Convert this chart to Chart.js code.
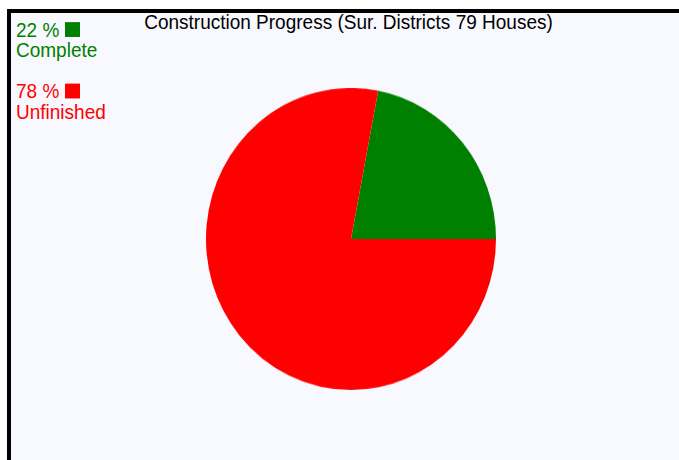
<!DOCTYPE html>
<html>
<head>
<meta charset="utf-8">
<script src="https://cdn.jsdelivr.net/npm/chart.js@4/dist/chart.umd.min.js"></script>
<style>
    html, body { margin: 0; padding: 0; background: #fff; width: 679px; height: 460px; overflow: hidden; }
    #box {
        position: absolute; left: 7px; top: 9px; width: 720px; height: 500px;
        border-left: 4px solid #000; border-top: 4px solid #000;
        background: #f8f8ff;
    }
    #title {
        position: absolute; left: 0; top: 12px; width: 697px; text-align: center;
        font-family: "Liberation Sans", Arial, sans-serif; font-size: 19px; line-height: 19px; color: #000;
        transform: scaleY(1.06); transform-origin: 50% 0;
    }
    #legend {
        position: absolute; left: 16px; top: 20px;
        font-family: "Liberation Sans", Arial, sans-serif; font-size: 19px; line-height: 19px;
        transform: scaleY(1.06); transform-origin: 0 0;
    }
    #legend .item { margin-bottom: 20px; }
    #legend .sw { display: inline-block; width: 15px; height: 14px; margin-left: 6px; vertical-align: 0; }
    #pieWrap {
        position: absolute; left: 206px; top: 94px; width: 290px; height: 290px;
        transform: scaleY(1.041); transform-origin: 50% 50%;
    }
</style>
</head>
<body>
<div id="box"></div>
<div id="title"></div>
<div id="legend"></div>
<div id="pieWrap"><canvas id="pie" width="290" height="290"></canvas></div>
<script>
(function (window) {

    var chartTitle = 'Construction Progress (Sur. Districts 79 Houses)';
    var categories = ['Complete', 'Unfinished'];
    var percents = [22, 78];
    var colors = ['#008000', '#ff0000'];

    function buildLegend() {
        var legend = document.getElementById('legend');
        for (var i = 0; i < categories.length; i++) {
            var item = document.createElement('div');
            item.className = 'item';
            item.style.color = colors[i];
            item.innerHTML = percents[i] + ' %<span class="sw" style="background:' + colors[i] + '"></span><br>' + categories[i];
            legend.appendChild(item);
        }
        document.getElementById('title').textContent = chartTitle;
    }

    function initializeChart() {
        buildLegend();

        var total = percents.reduce(function (a, b) { return a + b; }, 0);
        // first slice ends at 3 o'clock
        var rotation = 90 - 360 * percents[0] / total;

        var ctx = document.getElementById('pie');
        new Chart(ctx.getContext('2d'), {
            type: 'pie',
            data: {
                labels: categories,
                datasets: [
                    {
                        data: percents,
                        backgroundColor: colors,
                        borderWidth: 0
                    }
                ]
            },
            options: {
                responsive: false,
                animation: false,
                rotation: rotation,
                layout: { padding: 0 },
                plugins: {
                    legend: { display: false },
                    title: { display: false },
                    tooltip: { enabled: false }
                }
            }
        });
    }

    document.addEventListener('DOMContentLoaded', initializeChart);

})(window);
</script>
</body>
</html>
